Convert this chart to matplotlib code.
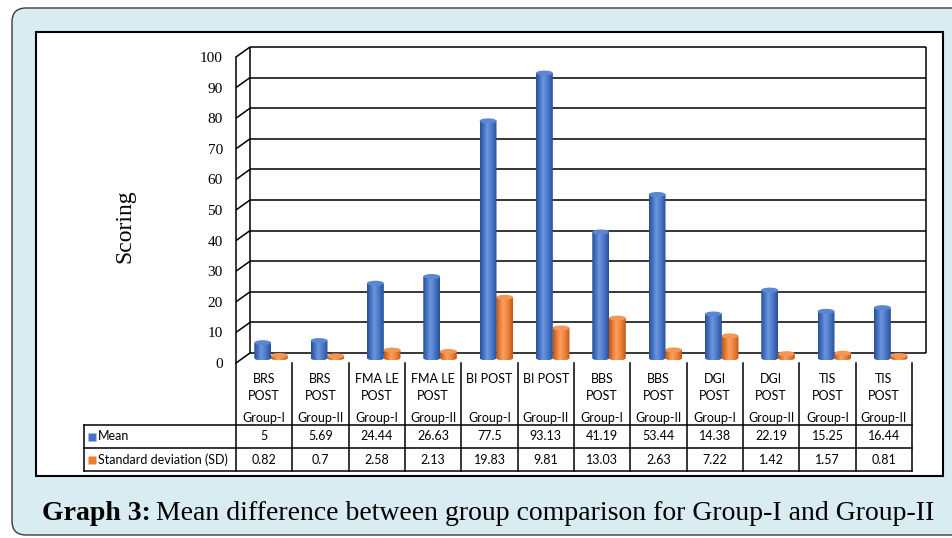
import matplotlib

matplotlib.use("Agg")
import matplotlib.pyplot as plt
import numpy as np
from matplotlib.colors import LinearSegmentedColormap
from matplotlib.patches import Ellipse, FancyBboxPatch, PathPatch, Rectangle
from matplotlib.path import Path

MEASURES = ["BRS\nPOST", "BRS\nPOST", "FMA LE\nPOST", "FMA LE\nPOST", "BI POST", "BI POST",
            "BBS\nPOST", "BBS\nPOST", "DGI\nPOST", "DGI\nPOST", "TIS\nPOST", "TIS\nPOST"]
GROUPS = ["Group-I", "Group-II"] * 6
MEAN = [5, 5.69, 24.44, 26.63, 77.5, 93.13, 41.19, 53.44, 14.38, 22.19, 15.25, 16.44]
SD = [0.82, 0.7, 2.58, 2.13, 19.83, 9.81, 13.03, 2.63, 7.22, 1.42, 1.57, 0.81]
SERIES = ["Mean", "Standard deviation (SD)"]
YTICKS = list(range(0, 101, 10))

W, H = 953, 538
BLUE = "#4472c4"; ORANGE = "#ed7d31"
FRAME = "#d8ecf1"
SERIF = "Liberation Serif"; SANS = "Lato"

# pixel layout of the plot box (front plane) and the depth shift of the back wall
X0, X1, Y100, Y0 = 236, 912, 57, 363
DEPTH = (14, 10)
CATW = (X1 - X0) / 12
PXU = (Y0 - Y100) / 100


def fx(px):
    return px / W


def fy(py):
    return 1 - py / H


def cyl_cmap(dark, base, light):
    return LinearSegmentedColormap.from_list(
        "c", [(0, dark), (0.22, base), (0.42, light), (0.75, base), (1, dark)])


def cylinder(ax, xc, w, base, h, cmap, top, z):
    eh = 5 / PXU
    x0, x1 = xc - w / 2, xc + w / 2
    t = np.linspace(np.pi, 2 * np.pi, 30)
    arc = np.column_stack([xc + w / 2 * np.cos(t), base + eh / 2 * np.sin(t)])
    verts = np.vstack([[x0, base + h], arc, [x1, base + h], [x0, base + h]])
    codes = [Path.MOVETO] + [Path.LINETO] * (len(verts) - 2) + [Path.CLOSEPOLY]
    clip = PathPatch(Path(verts, codes), transform=ax.transData)
    im = ax.imshow(np.linspace(0, 1, 64).reshape(1, -1), cmap=cmap, aspect="auto",
                   extent=[x0, x1, base - eh / 2, base + h], zorder=z, interpolation="bilinear")
    im.set_clip_path(clip)
    ax.add_patch(Ellipse((xc, base + h), w, eh, facecolor=top, edgecolor="none", zorder=z + 0.1))


fig = plt.figure(figsize=(W / 100, H / 100), dpi=100)

# outer caption frame
bg = fig.add_axes([0, 0, 1, 1], zorder=-5)
bg.set_xlim(0, W); bg.set_ylim(H, 0); bg.axis("off")
bg.add_patch(FancyBboxPatch((12, 8), 975, 527, boxstyle="round,pad=0,rounding_size=14",
                            facecolor=FRAME, edgecolor="#3a3a3a", lw=1.0))
bg.add_patch(Rectangle((36, 32), 907, 444, facecolor="white", edgecolor="black", lw=1.5))

# front plane axes: y ticks and the left edge
ax = fig.add_axes([fx(X0), fy(Y0), (X1 - X0) / W, (Y0 - Y100) / H])
ax.patch.set_visible(False)
dx, dy = DEPTH[0] / CATW, DEPTH[1] / PXU
xl, xr = -0.5, 11.5
lk = dict(color="black", lw=1.1, clip_on=False, solid_capstyle="butt")
for v in YTICKS:
    ax.plot([xl + dx, xr + dx], [v + dy, v + dy], **lk)
    ax.plot([xl, xl + dx], [v, v + dy], **lk)
ax.plot([xl + dx, xl + dx], [dy, 100 + dy], **lk)
ax.plot([xr + dx, xr + dx], [dy, 100 + dy], **lk)

blue_map = cyl_cmap("#2b4f92", BLUE, "#6d97de")
orange_map = cyl_cmap("#b85818", ORANGE, "#f6a264")
bw = 0.3
for i, (m, s) in enumerate(zip(MEAN, SD)):
    xc = i + dx / 2
    cylinder(ax, xc - 0.15, bw, dy / 2, m, blue_map, "#5a86d2", 3)
    cylinder(ax, xc + 0.145, bw, dy / 2, s, orange_map, "#f39657", 2)

ax.set_xlim(xl, xr); ax.set_ylim(0, 100)
ax.set_xticks([])
ax.set_yticks(YTICKS)
ax.set_yticklabels([str(v) for v in YTICKS], fontfamily=SERIF, fontsize=11)
ax.tick_params(axis="y", length=0, pad=9.5)
for s in ("top", "right", "bottom"):
    ax.spines[s].set_visible(False)
ax.spines["left"].set_linewidth(1.1)

fig.text(fx(125), fy(226), "Scoring", rotation=90, ha="center", va="center",
         fontfamily=SERIF, fontsize=17)

# data table under the plot
LEFTW = (X0 - 84) / CATW
tax = fig.add_axes([fx(84), fy(471), (X1 - 84) / W, (471 - Y0) / H])
tax.set_xlim(xl - LEFTW, xr); tax.set_ylim(108, 0); tax.axis("off")
tk = dict(color="black", lw=1.1, clip_on=False, solid_capstyle="projecting")
for i in range(13):
    tax.plot([xl + i, xl + i], [0, 108], **tk)
tax.plot([xl - LEFTW, xl - LEFTW], [62, 108], **tk)
for yy in (62, 85, 108):
    tax.plot([xl - LEFTW, xr], [yy, yy], **tk)

fs = 9
for i, (name, grp) in enumerate(zip(MEASURES, GROUPS)):
    tax.text(i, 10, name, ha="center", va="top", fontfamily=SANS, fontsize=fs, linespacing=1.45)
    tax.text(i, 55, grp, ha="center", va="center", fontfamily=SANS, fontsize=fs)
    tax.text(i, 73.5, f"{MEAN[i]:g}", ha="center", va="center", fontfamily=SANS, fontsize=fs)
    tax.text(i, 96.5, f"{SD[i]:g}", ha="center", va="center", fontfamily=SANS, fontsize=fs)

for yy, lab, col in zip((73.5, 96.5), SERIES, (BLUE, ORANGE)):
    tax.plot(xl - LEFTW + 8.5 / CATW, yy, marker="s", ms=5.5, color=col, mec="none", clip_on=False)
    tax.text(xl - LEFTW + 14 / CATW, yy, lab, ha="left", va="center", fontfamily=SANS, fontsize=fs)

# caption: bold lead-in followed by regular text
t1 = fig.text(fx(42), fy(513), "Graph 3:", fontfamily=SERIF, fontweight="bold",
              fontsize=20, ha="left", va="center")
fig.canvas.draw()
bb = t1.get_window_extent()
fig.text(bb.x1 / W + 5 / W, fy(513), "Mean difference between group comparison for Group-I and Group-II",
         fontfamily=SERIF, fontsize=20, ha="left", va="center")

fig.savefig("out.png", dpi=100)
